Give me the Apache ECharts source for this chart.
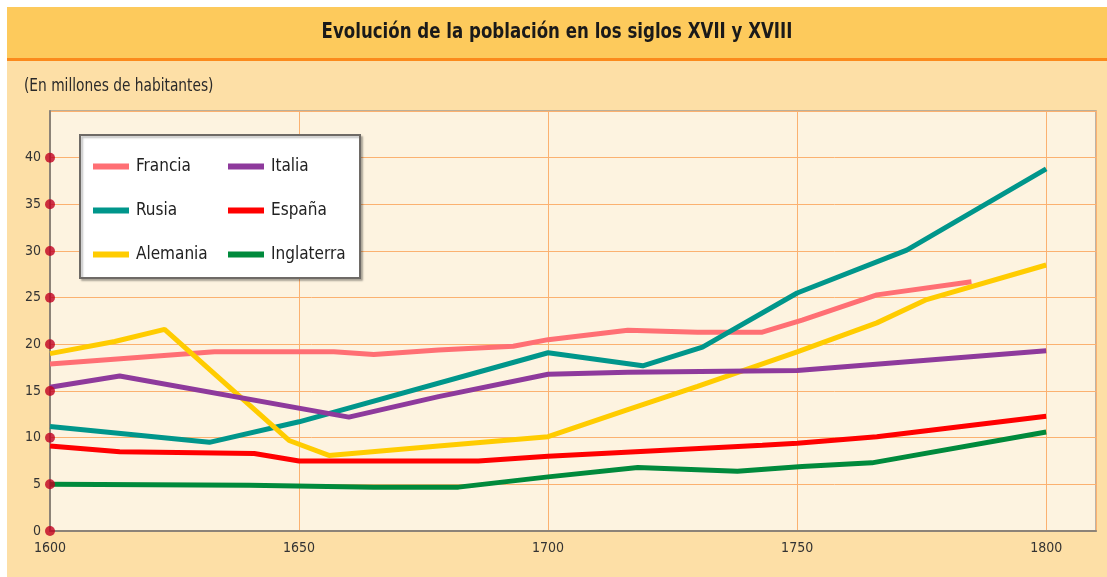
<!DOCTYPE html>
<html>
<head>
<meta charset="utf-8">
<script src="https://cdn.jsdelivr.net/npm/echarts@6/dist/echarts.min.js"></script>
<style>
html,body{margin:0;padding:0;background:#fff;}
#c{width:1107px;height:577px;}
</style>
</head>
<body>
<div id="c"></div>
<script>
const titleText = 'Evolución de la población en los siglos XVII y XVIII';
const subtitleText = '(En millones de habitantes)';
const yTicks = [0, 5, 10, 15, 20, 25, 30, 35, 40];

const francia = [[1600,17.9],[1633,19.2],[1657,19.2],[1665,18.9],[1678,19.4],[1693,19.8],[1700,20.5],[1716,21.5],[1730,21.3],[1743,21.3],[1751,22.6],[1766,25.3],[1785,26.7]];
const rusia = [[1600,11.2],[1632,9.5],[1650,11.7],[1700,19.1],[1719,17.7],[1731,19.7],[1750,25.5],[1772,30.1],[1800,38.8]];
const alemania = [[1600,19.0],[1613,20.3],[1623,21.6],[1648,9.7],[1656,8.1],[1678,9.1],[1700,10.1],[1716,13.0],[1730,15.5],[1750,19.2],[1766,22.3],[1776,24.8],[1800,28.5]];
const italia = [[1600,15.4],[1614,16.6],[1660,12.2],[1678,14.4],[1700,16.8],[1716,17.0],[1750,17.2],[1800,19.3]];
const espana = [[1600,9.1],[1614,8.5],[1641,8.3],[1650,7.5],[1686,7.5],[1700,8.0],[1743,9.2],[1750,9.4],[1766,10.1],[1800,12.3]];
const inglaterra = [[1600,5.0],[1640,4.9],[1665,4.7],[1682,4.7],[1700,5.8],[1718,6.8],[1738,6.4],[1751,6.9],[1765,7.3],[1800,10.6]];

const FONT = '"Liberation Sans Narrow","DejaVu Sans Condensed","Liberation Sans",sans-serif';
const colors = {Francia:'#ff6f74', Rusia:'#00968b', Alemania:'#ffcc00', Italia:'#8e3a9c', 'España':'#ff0000', Inglaterra:'#008a3c'};

function lineSeries(name, data){
  return {name:name, type:'line', data:data, symbol:'none', smooth:false,
    lineStyle:{width:5, color:colors[name]}, itemStyle:{color:colors[name]}, z:3};
}

const chart = echarts.init(document.getElementById('c'), null, {renderer:'canvas'});
chart.setOption({
  animation:false,
  backgroundColor:'#ffffff',
  graphic:[
    {type:'rect', z:-10, shape:{x:7,y:7,width:1100,height:570}, style:{fill:'#fddfa6'}},
    {type:'rect', z:-9, shape:{x:7,y:7,width:1100,height:51}, style:{fill:'#fdca5c'}},
    {type:'rect', z:-9, shape:{x:7,y:58,width:1100,height:3}, style:{fill:'#fb8a1c'}},
    {type:'text', z:5, x:557, y:33, scaleX:0.88, style:{text:titleText, font:'bold 21px '+FONT, fill:'#1a1a1a', align:'center', verticalAlign:'middle'}},
    {type:'text', z:5, x:24, y:87, scaleX:0.9, style:{text:subtitleText, font:'17px '+FONT, fill:'#2a2a2a', align:'left', verticalAlign:'middle'}},
    {type:'rect', z:10, shape:{x:80,y:135,width:280,height:143}, style:{fill:'#ffffff', stroke:'#6e6a66', lineWidth:2, shadowColor:'rgba(0,0,0,0.25)', shadowOffsetX:2, shadowOffsetY:2, shadowBlur:2}}
  ],
  grid:{left:50, top:111, width:1046, height:420, show:true, backgroundColor:'#fdf3e0', borderColor:'#a89f92', borderWidth:1.5},
  xAxis:{type:'value', min:1600, max:1810, interval:50,
    axisLine:{show:true, lineStyle:{color:'#8c8378', width:2}},
    axisTick:{show:false},
    axisLabel:{showMaxLabel:false, color:'#333', fontFamily:FONT, fontSize:14, margin:10, formatter:function(v){return String(v);}},
    splitLine:{show:true, lineStyle:{color:'#fbb170', width:1}}
  },
  yAxis:{type:'value', min:0, max:45, interval:5,
    axisLine:{show:true, lineStyle:{color:'#8c8378', width:2}},
    axisTick:{show:false},
    axisLabel:{showMaxLabel:false, color:'#333', fontFamily:FONT, fontSize:14, margin:9},
    splitLine:{show:true, lineStyle:{color:'#fbb170', width:1}}
  },
  legend:[
    {data:['Francia','Rusia','Alemania'], orient:'vertical', left:88, top:153, itemWidth:36, itemHeight:6, itemGap:27, z:12,
      icon:'rect', textStyle:{fontFamily:FONT, fontSize:17, color:'#222', padding:[0,0,0,2]}},
    {data:['Italia','España','Inglaterra'], orient:'vertical', left:223, top:153, itemWidth:36, itemHeight:6, itemGap:27, z:12,
      icon:'rect', textStyle:{fontFamily:FONT, fontSize:17, color:'#222', padding:[0,0,0,2]}}
  ],
  series:[
    lineSeries('Francia', francia),
    lineSeries('Rusia', rusia),
    lineSeries('Alemania', alemania),
    lineSeries('Italia', italia),
    lineSeries('España', espana),
    lineSeries('Inglaterra', inglaterra),
    {type:'scatter', name:'ticks', data:yTicks.map(v=>[1600,v]), symbolSize:10, itemStyle:{color:'#c00020'}, clip:false, z:6, silent:true}
  ]
});
</script>
</body>
</html>
